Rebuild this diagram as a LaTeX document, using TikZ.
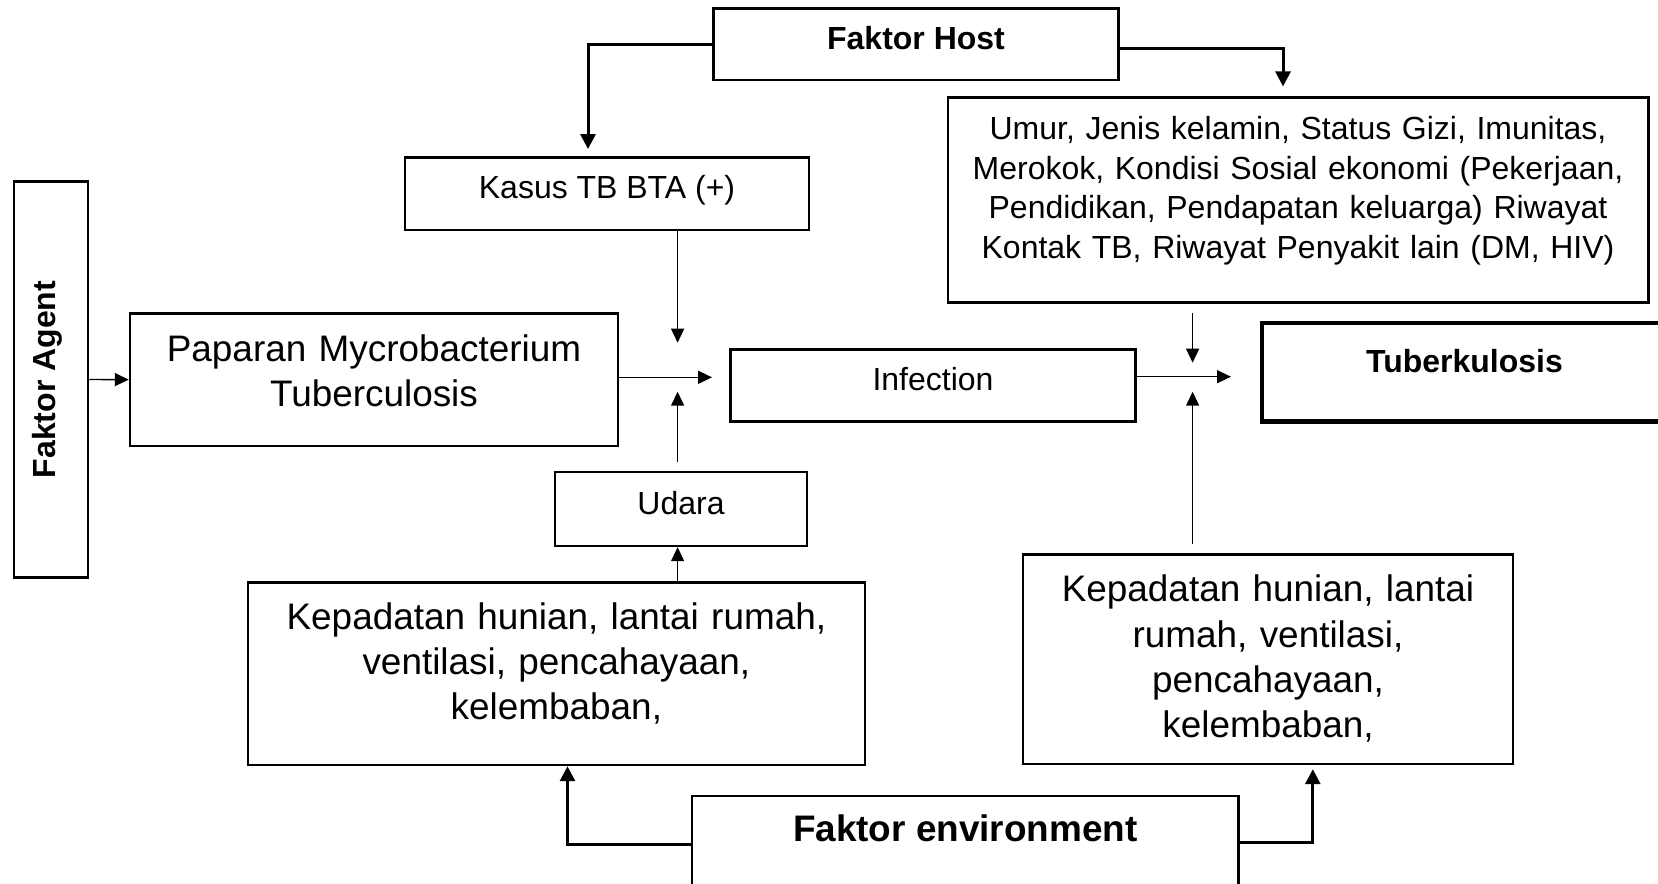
\documentclass[tikz,border=0pt]{standalone}
\usepackage{fontspec}
\setmainfont{Liberation Sans}
\usetikzlibrary{arrows.meta}
\newcommand{\smallfont}{\fontsize{9.1}{11.2}\selectfont}
\newcommand{\bigfont}{\fontsize{10.5}{12.9}\selectfont}

\begin{document}
\begin{tikzpicture}[
		box/.style={draw, line width=0.7pt, inner sep=0pt, align=center, font=\smallfont},
		bigbox/.style={box, font=\bigfont},
		link/.style={line width=0.85pt, -{Triangle[length=1.5mm, width=1.5mm]}},
		feed/.style={line width=0.4pt, -{Triangle[length=1.4mm, width=1.3mm]}}
	]
	\useasboundingbox (0,0) rectangle (16.58,8.83);
	\node[box, font=\smallfont\bfseries, minimum width=4.05cm, minimum height=0.717cm, text height=0.117cm, text depth=0cm] (host) at (9.16,8.3885) {Faktor Host};
	\node[box, minimum width=4.045cm, minimum height=0.727cm, text height=0.093cm, text depth=0cm] (kasus) at (6.07,6.8935) {Kasus TB BTA (+)};
	\node[box, minimum width=7.005cm, minimum height=2.05cm, text width=6.8cm, text height=0cm, text depth=1.204cm] (umur) at (12.98,6.828) {Umur, Jenis kelamin, Status Gizi, Imunitas,\\ Merokok, Kondisi Sosial ekonomi (Pekerjaan,\\ Pendidikan, Pendapatan keluarga) Riwayat\\ Kontak TB, Riwayat Penyakit lain (DM, HIV)};
	\node[box, font=\smallfont\bfseries, rotate=90, minimum width=3.956cm, minimum height=0.741cm, text height=0.085cm, text depth=0cm] (agent) at (0.51,5.035) {Faktor Agent};
	\node[bigbox, minimum width=4.88cm, minimum height=1.327cm, text width=4.6cm, text height=0cm, text depth=0.373cm] (paparan) at (3.74,5.0335) {Paparan Mycrobacterium\\ Tuberculosis};
	\node[box, minimum width=4.05cm, minimum height=0.724cm, text height=0.095cm, text depth=0cm] (infection) at (9.33,4.975) {Infection};
	\node[box, line width=1.4pt, font=\smallfont\bfseries, minimum width=4.05cm, minimum height=0.983cm, text height=0cm, text depth=0cm] (tb) at (14.645,5.1085) {Tuberkulosis};
	\node[box, minimum width=2.525cm, minimum height=0.737cm, text height=0.117cm, text depth=0cm] (udara) at (6.81,3.739) {Udara};
	\node[bigbox, minimum width=6.172cm, minimum height=1.827cm, text width=5.9cm, text height=0cm, text depth=0.887cm] (kepl) at (5.564,2.0935) {Kepadatan hunian, lantai rumah,\\ ventilasi, pencahayaan,\\ kelembaban,};
	\node[bigbox, minimum width=4.897cm, minimum height=2.097cm, text width=4.6cm, text height=0cm, text depth=1.149cm] (kepr) at (12.68,2.2385) {Kepadatan hunian, lantai\\ rumah, ventilasi,\\ pencahayaan,\\ kelembaban,};
	\node[bigbox, font=\bigfont\bfseries, minimum width=5.468cm, minimum height=1.1cm, text height=0cm, text depth=0.186cm] (env) at (9.653,0.32) {Faktor environment};
	\coordinate (x1) at (6.776,5.057);
	\coordinate (x2) at (11.926,5.063);
	\draw[link] (host.west) -| ([xshift=-0.19cm, yshift=0.07cm]kasus.north);
	\draw[link] ([yshift=-0.04cm]host.east) -| ([xshift=-0.15cm, yshift=0.1cm]umur.north);
	\draw[feed] (agent.south) -- (paparan.west);
	\draw[feed] (paparan.east |- x1) -- ([xshift=0.344cm]x1);
	\draw[feed] (kasus.south -| x1) -- ([yshift=0.346cm]x1);
	\draw[feed] ([yshift=0.09cm]udara.north -| x1) -- ([yshift=-0.144cm]x1);
	\draw[feed] (kepl.north -| x1) -- (udara.south -| x1);
	\draw[feed] (infection.east |- x2) -- ([xshift=0.384cm]x2);
	\draw[feed] ([yshift=-0.09cm]umur.south -| x2) -- ([yshift=0.14cm]x2);
	\draw[feed] ([yshift=0.09cm]kepr.north -| x2) -- ([yshift=-0.15cm]x2);
	\draw[link] ([yshift=-0.5cm]env.north west) -| ([xshift=0.111cm]kepl.south);
	\draw[link] ([yshift=-0.473cm]env.north east) -| ([xshift=0.448cm, yshift=-0.04cm]kepr.south);
\end{tikzpicture}
\end{document}
